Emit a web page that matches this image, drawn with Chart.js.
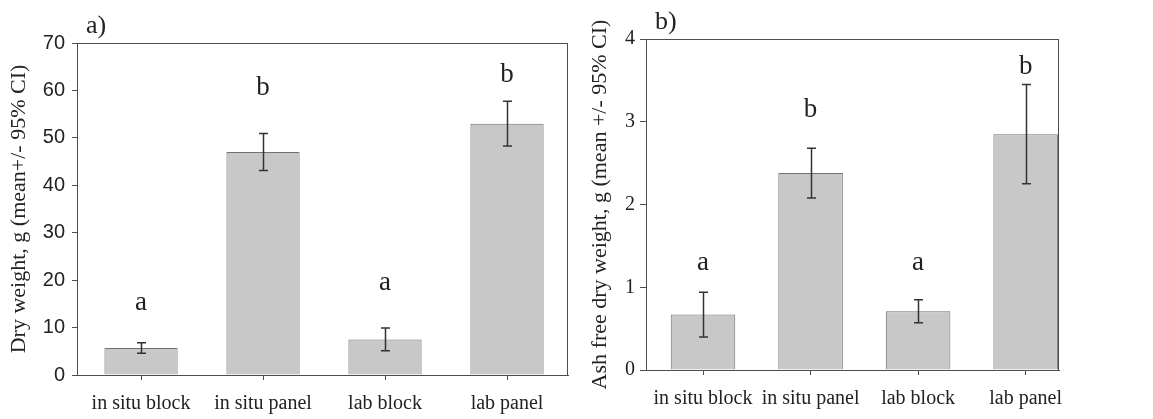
<!DOCTYPE html>
<html>
<head>
<meta charset="utf-8">
<script src="https://cdn.jsdelivr.net/npm/chart.js@4/dist/chart.umd.min.js"></script>
<style>
    html, body { margin: 0; padding: 0; background: #fff; }
    #wrap { position: relative; width: 1153px; height: 419px; overflow: hidden; }
    canvas { position: absolute; top: 0; }
    #dryChart { left: 0; }
    #afdwChart { left: 580px; }
</style>
</head>
<body>
<div id="wrap">
    <canvas id="dryChart" width="580" height="419"></canvas>
    <canvas id="afdwChart" width="573" height="419"></canvas>
</div>
<script>
// Treatments (x axis)
const categories = ['in situ block', 'in situ panel', 'lab block', 'lab panel'];

// a) dry weight, g
const dryMean = [5.7, 47.0, 7.5, 53.0];
const dryCI = [1.1, 3.9, 2.4, 4.7];
const dryLetters = ['a', 'b', 'a', 'b'];
const dryLetterAt = [15.2, 60.5, 19.4, 63.3];
const dryTicks = [0, 10, 20, 30, 40, 50, 60, 70];

// b) ash free dry weight, g
const afdwMean = [0.67, 2.38, 0.71, 2.85];
const afdwCI = [0.27, 0.30, 0.14, 0.60];
const afdwLetters = ['a', 'b', 'a', 'b'];
const afdwLetterAt = [1.30, 3.14, 1.30, 3.66];
const afdwTicks = [0, 1, 2, 3, 4];

const SERIF = '"Liberation Serif", "Times New Roman", serif';
const SANS = '"Liberation Sans", Arial, sans-serif';
const INK = '#222';
const LINE = '#4d4d4d';

// Error bars, significance letters, box frame and panel label
function extrasPlugin(ci, letters, letterAt, panel) {
    return {
        id: 'extras',
        afterDatasetsDraw(chart) {
            const ctx = chart.ctx;
            const x = chart.scales.x;
            const y = chart.scales.y;
            const area = chart.chartArea;
            const means = chart.data.datasets[0].data;

            ctx.save();
            // frame
            ctx.strokeStyle = LINE;
            ctx.lineWidth = 1;
            ctx.strokeRect(area.left + 0.5, area.top + 0.5, area.right - area.left - 1, area.bottom - area.top);

            // error bars
            ctx.strokeStyle = '#333';
            ctx.lineWidth = 1.5;
            means.forEach((p, i) => {
                const px = Math.round(x.getPixelForValue(p.x)) + 0.5;
                const hi = y.getPixelForValue(p.y + ci[i]);
                const lo = y.getPixelForValue(p.y - ci[i]);
                ctx.beginPath();
                ctx.moveTo(px, hi);
                ctx.lineTo(px, lo);
                ctx.moveTo(px - 4.5, hi);
                ctx.lineTo(px + 4.5, hi);
                ctx.moveTo(px - 4.5, lo);
                ctx.lineTo(px + 4.5, lo);
                ctx.stroke();
            });

            // letters
            ctx.fillStyle = INK;
            ctx.font = '27px ' + SERIF;
            ctx.textAlign = 'center';
            ctx.textBaseline = 'middle';
            letters.forEach((t, i) => {
                ctx.fillText(t, x.getPixelForValue(i), y.getPixelForValue(letterAt[i]));
            });

            // panel label
            ctx.font = '26px ' + SERIF;
            ctx.textAlign = 'left';
            ctx.textBaseline = 'alphabetic';
            ctx.fillText(panel, area.left + 9, area.top - 10);
            ctx.restore();
        }
    };
}

function makeChart(id, opts) {
    const ctx = document.getElementById(id).getContext('2d');
    return new Chart(ctx, {
        type: 'bar',
        data: {
            datasets: [{
                data: opts.means.map((v, i) => ({ x: i, y: v })),
                backgroundColor: '#c8c8c8',
                borderColor: '#707070',
                borderWidth: 1,
                borderSkipped: 'bottom',
                barPercentage: 0.6,
                categoryPercentage: 1.0
            }]
        },
        options: {
            responsive: false,
            animation: false,
            devicePixelRatio: 1,
            layout: { padding: opts.padding },
            plugins: {
                legend: { display: false },
                tooltip: { enabled: false }
            },
            scales: {
                x: {
                    type: 'linear',
                    offset: false,
                    min: opts.xMin,
                    max: opts.xMax,
                    afterBuildTicks: (s) => { s.ticks = categories.map((_, i) => ({ value: i })); },
                    afterFit: (s) => { s.height = opts.xHeight; },
                    grid: { offset: false, drawOnChartArea: false, drawTicks: true, tickLength: 5, color: LINE },
                    border: { display: true, color: LINE, width: 1 },
                    ticks: {
                        autoSkip: false,
                        maxRotation: 0,
                        padding: 12,
                        color: INK,
                        font: { family: SERIF, size: 20 },
                        callback: (v) => categories[v] ?? ''
                    }
                },
                y: {
                    min: 0,
                    max: opts.yTicks[opts.yTicks.length - 1],
                    afterBuildTicks: (s) => { s.ticks = opts.yTicks.map(v => ({ value: v })); },
                    afterFit: (s) => { s.width = opts.yWidth; },
                    grid: { drawOnChartArea: false, drawTicks: true, tickLength: opts.yTickLen, color: LINE },
                    border: { display: true, color: LINE, width: 1 },
                    ticks: {
                        padding: opts.yTickPad,
                        color: INK,
                        font: { family: opts.yFont, size: 20 }
                    },
                    title: {
                        display: true,
                        text: opts.yTitle,
                        color: INK,
                        font: { family: SERIF, size: 22 },
                        padding: { top: opts.titlePad, bottom: 0 }
                    }
                }
            }
        },
        plugins: [extrasPlugin(opts.ci, opts.letters, opts.letterAt, opts.panel)]
    });
}

makeChart('dryChart', {
    means: dryMean,
    ci: dryCI,
    letters: dryLetters,
    letterAt: dryLetterAt,
    yTicks: dryTicks,
    panel: 'a)',
    yTitle: 'Dry weight, g (mean+/- 95% CI)',
    yFont: SANS,
    yWidth: 77,
    yTickLen: 5,
    yTickPad: 7,
    titlePad: 6,
    xHeight: 44,
    xMin: -0.525,
    xMax: 3.5,
    padding: { top: 43, right: 12, left: 0, bottom: 0 }
});

makeChart('afdwChart', {
    means: afdwMean,
    ci: afdwCI,
    letters: afdwLetters,
    letterAt: afdwLetterAt,
    yTicks: afdwTicks,
    panel: 'b)',
    yTitle: 'Ash free dry weight, g (mean +/- 95% CI)',
    yFont: SERIF,
    yWidth: 66,
    yTickLen: 6,
    yTickPad: 5,
    titlePad: 7,
    xHeight: 49,
    xMin: -0.53,
    xMax: 3.31,
    padding: { top: 39, right: 94, left: 0, bottom: 0 }
});
</script>
</body>
</html>
